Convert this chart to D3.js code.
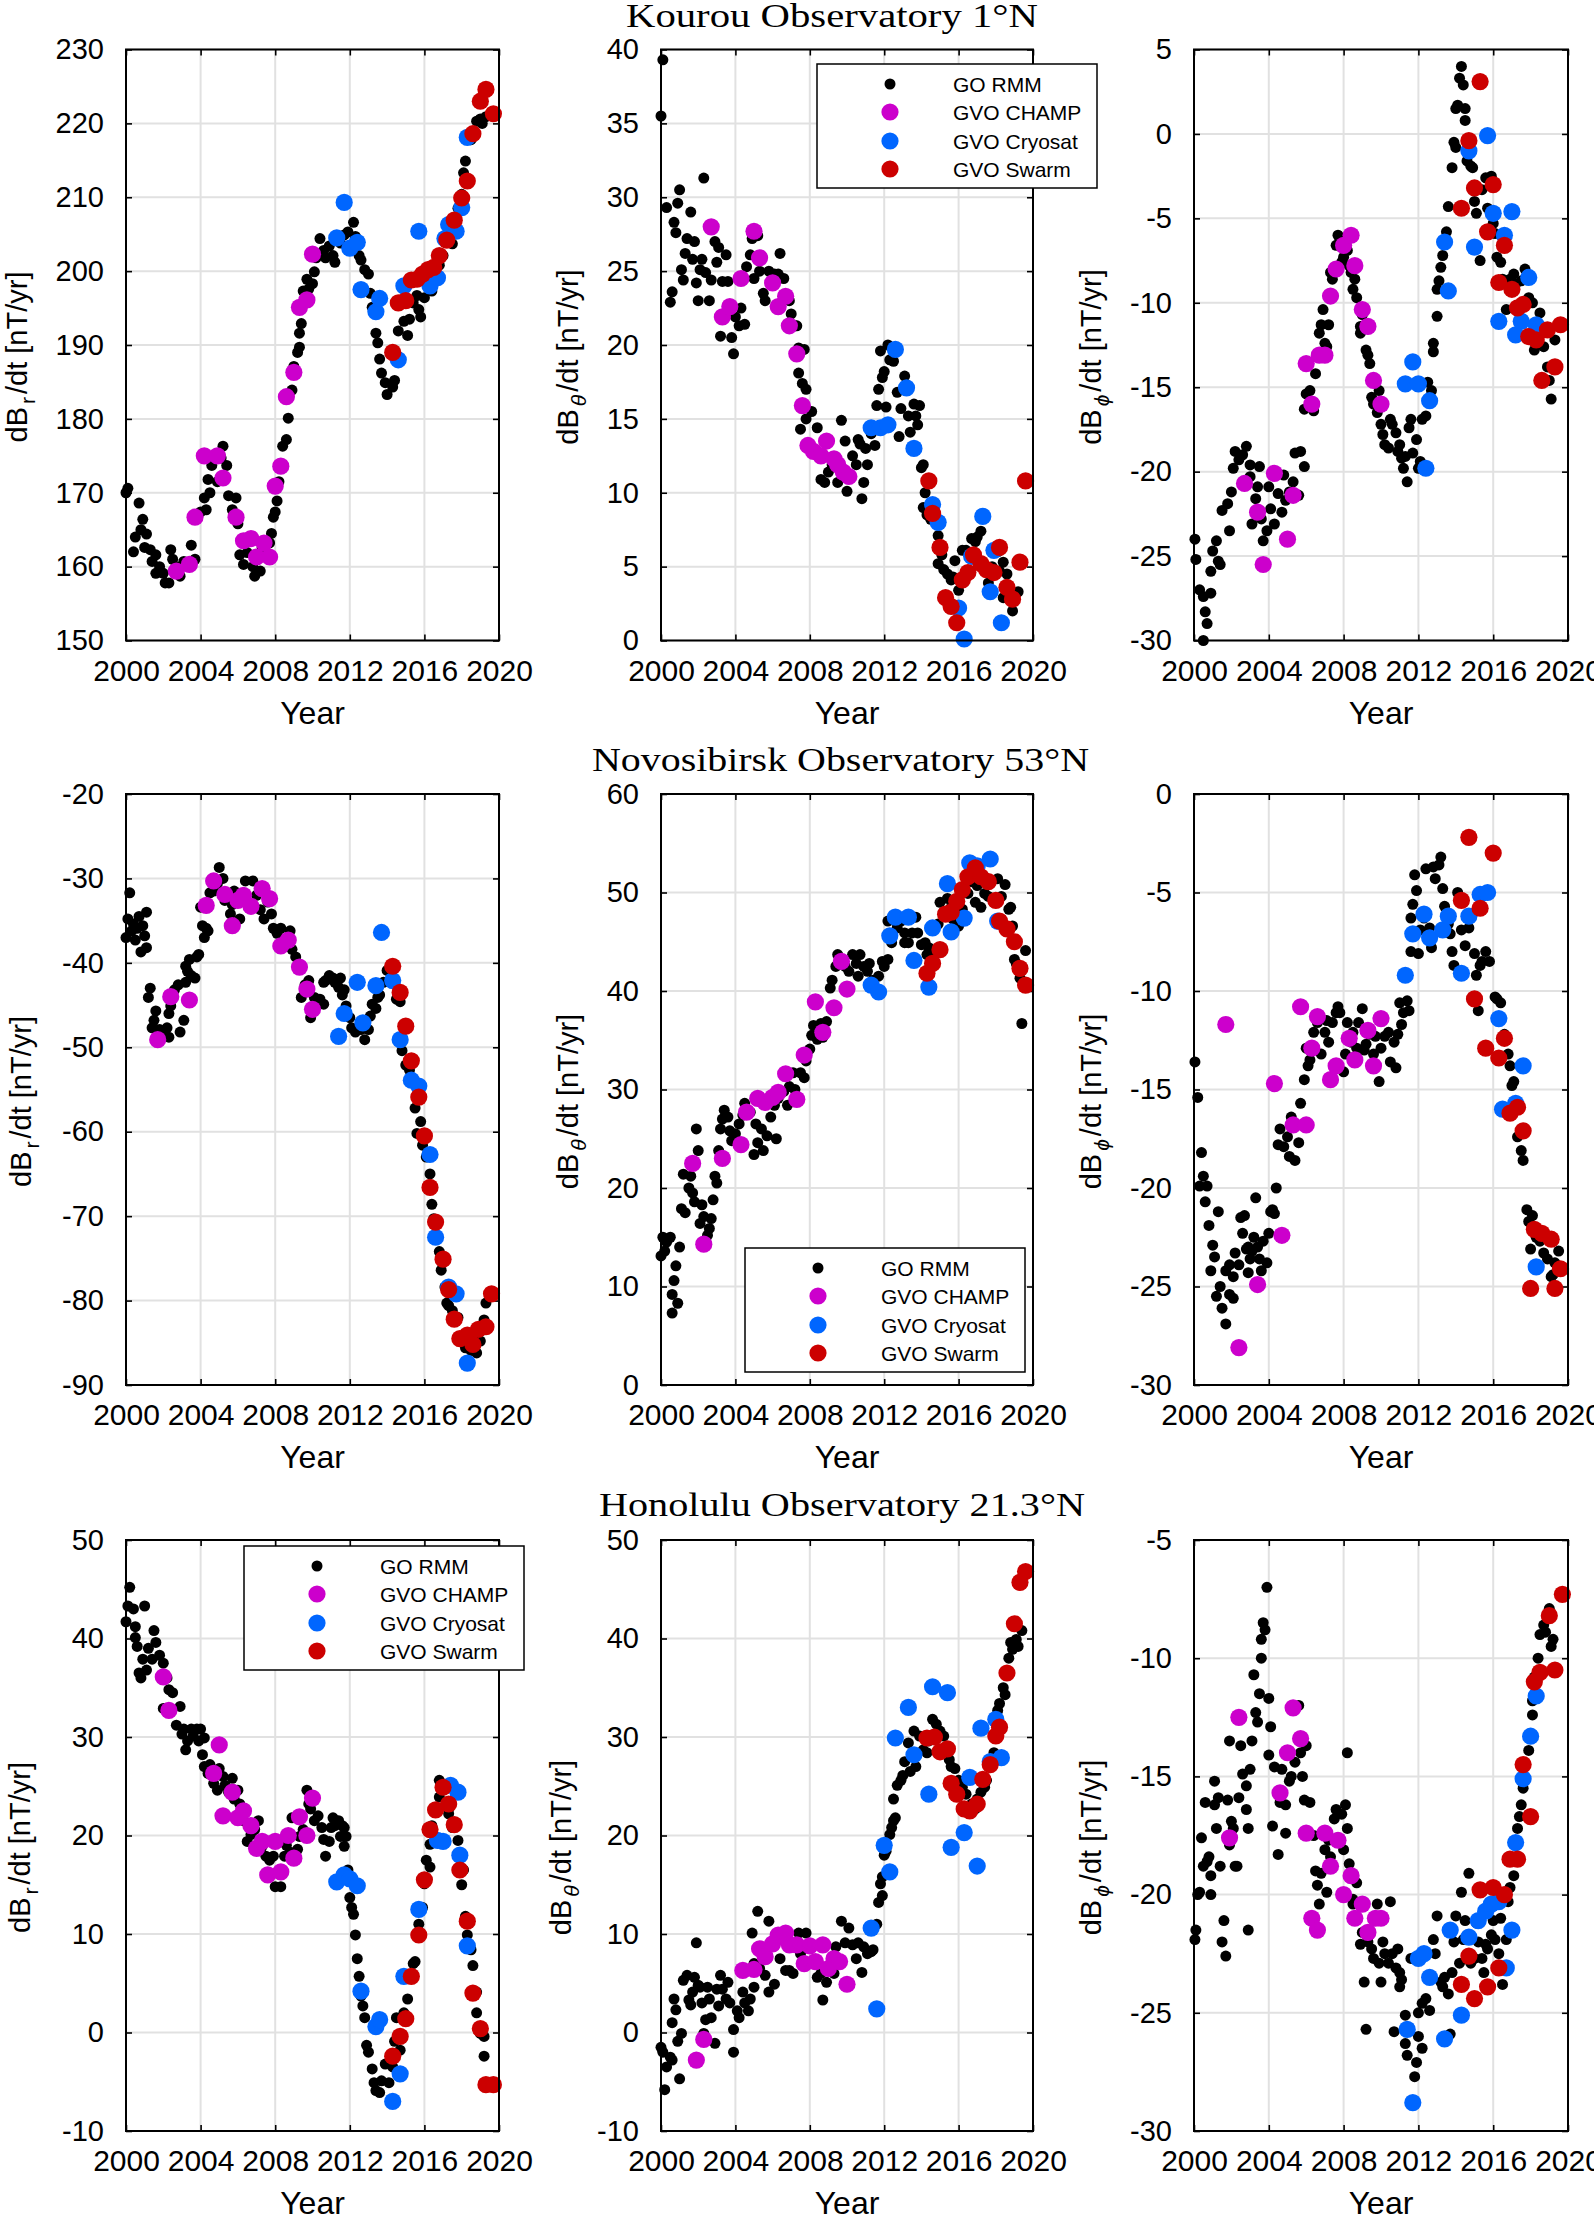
<!DOCTYPE html>
<html><head><meta charset="utf-8">
<script src="https://cdn.jsdelivr.net/npm/d3@7"></script>
<style>body{margin:0;background:#fff;} svg{display:block;}</style>
</head><body>
<svg id="chart" width="1594" height="2216"></svg>
<script>
// ---------------- data ----------------
const xTickValues = [2000, 2004, 2008, 2012, 2016, 2020];
const seriesNames = ["GO RMM", "GVO CHAMP", "GVO Cryosat", "GVO Swarm"];
const stationTitles = ["Kourou Observatory 1°N", "Novosibirsk Observatory 53°N", "Honolulu Observatory 21.3°N"];

const kourouRTicks = [150,160,170,180,190,200,210,220,230];
const kourouThetaTicks = [0,5,10,15,20,25,30,35,40];
const kourouPhiTicks = [-30,-25,-20,-15,-10,-5,0,5];
const novoRTicks = [-90,-80,-70,-60,-50,-40,-30,-20];
const novoThetaTicks = [0,10,20,30,40,50,60];
const novoPhiTicks = [-30,-25,-20,-15,-10,-5,0];
const honoRTicks = [-10,0,10,20,30,40,50];
const honoThetaTicks = [-10,0,10,20,30,40,50];
const honoPhiTicks = [-30,-25,-20,-15,-10,-5];

// Kourou dBr/dt
const kourouR_GO = [[2000.0,170.0],[2000.1,170.6],[2000.4,162],[2000.5,164],[2000.7,168.6],[2000.9,166.4],[2000.8,165],[2001.1,164.4],[2001.0,162.6],[2001.3,162.3],[2001.4,160.7],[2001.6,161.6],[2001.6,159.1],[2001.8,160.0],[2002.0,159.1],[2002.1,157.8],[2002.3,157.8],[2002.4,162.3],[2002.5,161.0],[2002.7,160],[2002.9,158.7],[2003.1,160.7],[2003.5,162.9],[2003.7,161],[2004.0,167.4],[2004.3,167.7],[2004.2,169.3],[2004.5,170],[2004.4,171.8],[2004.6,173.7],[2004.9,171.5],[2005.1,174.7],[2005.2,176.3],[2005.4,173.7],[2005.5,169.6],[2005.7,167.7],[2005.9,169.3],[2006.0,165.8],[2006.1,161.6],[2006.3,160.3],[2006.5,161.9],[2006.8,160.0],[2006.9,158.7],[2007.0,161],[2007.2,159.4],[2007.3,162.6],[2007.7,163.2],[2007.8,164.5],[2007.9,166.7],[2008.0,167.4],[2008.1,168.9],[2008.2,171.5],[2008.3,173.7],[2008.4,176.3],[2008.6,177.2],[2008.7,180.1],[2008.9,183.9],[2009.0,187.1],[2009.2,189],[2009.3,189.7],[2009.3,191.6],[2009.4,192.9],[2009.5,197.3],[2009.7,198.9],[2009.8,197.6],[2010.0,198.3],[2010.1,199.9],[2010.2,201.8],[2010.4,204.4],[2010.6,202.8],[2010.7,201.8],[2010.9,203.4],[2011.2,201.2],[2011.1,202.1],[2011.5,203.8],[2011.7,204.9],[2011.9,205.3],[2012.2,206.6],[2012.3,204.7],[2012.5,202.1],[2012.6,201.5],[2012.8,200.2],[2013.0,199.6],[2013.1,197],[2013.2,195.1],[2013.4,191.6],[2013.5,190.3],[2013.6,188.1],[2013.7,186.2],[2013.9,184.9],[2014.0,183.3],[2014.3,184.3],[2014.4,185.2],[2014.5,188.7],[2014.6,191.9],[2014.9,193.2],[2015.1,191.3],[2015.2,193.5],[2015.4,195.7],[2015.6,196.7],[2015.7,194.8],[2015.8,193.8],[2016.0,196.4],[2016.3,197.6],[2016.4,197.3],[2016.6,198.9],[2016.8,200.8],[2017.0,202.1],[2017.2,204],[2017.3,204.7],[2017.5,203.7],[2017.6,205.9],[2017.8,208.5],[2018.0,210.4],[2018.1,213.3],[2018.2,214.9],[2018.5,217.8],[2018.6,218.7],[2018.8,220.3],[2019.0,220.6],[2019.1,220],[2019.3,220.9],[2019.6,221.3]];
const kourouR_CHAMP = [[2002.7,159.4],[2003.4,160.3],[2003.7,166.7],[2004.2,175.0],[2004.9,175.0],[2005.2,172.0],[2005.9,166.7],[2006.3,163.5],[2006.7,163.8],[2007.0,161.3],[2007.4,163.2],[2007.7,161.3],[2008.0,170.9],[2008.3,173.6],[2008.6,183.0],[2009.0,186.3],[2009.3,195.1],[2009.7,196.1],[2010.0,202.3]];
const kourouR_Cryosat = [[2011.3,204.5],[2011.7,209.3],[2012.0,203.1],[2012.4,203.9],[2012.6,197.5],[2013.4,194.5],[2013.6,196.3],[2014.6,188.0],[2014.9,198.0],[2015.7,205.4],[2016.3,198.0],[2016.7,199.1],[2017.1,204.4],[2017.3,206.3],[2017.7,205.4],[2018.0,208.6],[2018.3,218.1]];
const kourouR_Swarm = [[2014.3,189.0],[2014.6,195.7],[2015.0,196.0],[2015.3,198.8],[2015.6,198.9],[2015.9,199.6],[2016.2,200.2],[2016.5,200.5],[2016.8,202.1],[2017.2,204.2],[2017.6,206.9],[2018.0,209.9],[2018.3,212.2],[2018.6,218.6],[2019.0,223.0],[2019.3,224.6],[2019.7,221.3]];

// Kourou dBtheta/dt
const kourouTheta_GO = [[2000.1,39.3],[2000.0,35.5],[2000.3,29.3],[2000.5,22.9],[2000.6,23.6],[2000.7,28.3],[2000.8,27.6],[2000.9,29.6],[2001.0,30.5],[2001.1,25.1],[2001.2,24.4],[2001.3,26.2],[2001.4,27.2],[2001.6,29.0],[2001.7,25.8],[2001.8,27.0],[2001.9,24.2],[2002.0,23.0],[2002.1,25.1],[2002.2,25.8],[2002.3,31.3],[2002.4,24.9],[2002.6,23.0],[2002.7,24.4],[2002.9,27.0],[2003.0,25.6],[2003.1,26.6],[2003.2,20.6],[2003.3,24.3],[2003.5,26.1],[2003.6,24.3],[2003.8,20.5],[2003.9,19.4],[2004.0,21.9],[2004.2,21.3],[2004.3,22.5],[2004.5,21.4],[2004.6,25.3],[2004.8,26.1],[2004.9,27.2],[2005.0,24.5],[2005.2,27.4],[2005.3,25.0],[2005.5,23.5],[2005.6,23.0],[2005.8,25.0],[2006.1,24.8],[2006.3,24.8],[2006.4,26.2],[2006.6,24.5],[2006.9,23.0],[2007.0,22.1],[2007.2,21.3],[2007.3,21.3],[2007.4,19.8],[2007.4,18.1],[2007.6,17.4],[2007.7,19.7],[2007.8,17.0],[2007.8,15.0],[2007.5,14.3],[2008.1,15.5],[2008.4,14.4],[2008.6,10.9],[2008.8,10.7],[2009.0,11.4],[2009.2,11.9],[2009.5,10.7],[2009.7,14.9],[2009.9,13.5],[2010.0,10.1],[2010.3,12.5],[2010.5,11.9],[2010.6,13.6],[2010.7,13.3],[2010.8,9.6],[2010.9,10.7],[2011.0,13.0],[2011.1,11.9],[2011.3,14.0],[2011.5,13.2],[2011.6,15.9],[2011.7,17.0],[2011.8,19.6],[2011.9,17.8],[2012.0,18.2],[2012.1,15.8],[2012.2,20.0],[2012.3,19.0],[2012.5,18.9],[2012.7,16.8],[2012.8,13.8],[2012.9,15.7],[2013.1,17.9],[2013.3,15.2],[2013.4,14.1],[2013.6,16.0],[2013.7,15.2],[2013.9,15.9],[2013.8,14.6],[2014.0,11.7],[2014.1,11.9],[2014.2,10.0],[2014.1,9.0],[2014.3,8.5],[2014.5,8.2],[2014.8,7.9],[2014.9,7.1],[2015.0,6.3],[2015.1,5.8],[2014.9,5.2],[2015.2,4.8],[2015.4,4.5],[2015.6,4.1],[2015.7,4.3],[2015.8,5.4],[2016.0,3.4],[2016.2,6.1],[2016.4,6.1],[2016.7,6.9],[2016.9,6.7],[2017.0,7.0],[2017.2,7.4],[2017.6,3.9],[2017.8,5.0],[2018.1,6.0],[2018.2,4.7],[2018.4,5.3],[2018.6,4.5],[2018.8,3.3],[2018.9,2.0],[2019.2,3.3],[2018.4,2.9]];
const kourouTheta_CHAMP = [[2002.7,28.0],[2003.3,21.9],[2003.7,22.6],[2004.3,24.5],[2005.0,27.7],[2005.3,25.9],[2006.0,24.2],[2006.3,22.6],[2006.7,23.3],[2006.9,21.3],[2007.3,19.4],[2007.6,15.9],[2007.9,13.2],[2008.2,12.8],[2008.6,12.5],[2008.9,13.5],[2009.3,12.3],[2009.5,11.9],[2009.8,11.4],[2010.1,11.1]];
const kourouTheta_Cryosat = [[2011.3,14.4],[2011.8,14.4],[2012.2,14.6],[2012.6,19.7],[2013.2,17.1],[2013.6,13.0],[2014.6,9.2],[2014.9,8.0],[2016.0,2.2],[2016.3,0.1],[2016.7,5.7],[2017.3,8.4],[2017.7,3.3],[2017.9,6.1],[2018.3,1.2]];
const kourouTheta_Swarm = [[2014.4,10.8],[2014.6,8.6],[2015.0,6.3],[2015.3,2.9],[2015.6,2.3],[2015.9,1.2],[2016.2,4.1],[2016.5,4.6],[2016.8,5.8],[2017.2,5.2],[2017.5,4.8],[2017.9,4.6],[2018.2,6.3],[2018.6,3.6],[2018.9,2.8],[2019.3,5.3],[2019.6,10.8]];

// Kourou dBphi/dt
const kourouPhi_GO = [[2000.05,-24.0],[2000.1,-25.2],[2000.3,-27.0],[2000.5,-27.4],[2000.6,-28.3],[2000.7,-29.0],[2000.5,-30.0],[2000.9,-27.2],[2000.9,-25.9],[2001.0,-24.7],[2001.2,-24.1],[2001.3,-25.3],[2001.4,-25.5],[2001.5,-22.3],[2001.8,-21.9],[2001.9,-23.5],[2002.0,-21.2],[2002.1,-19.8],[2002.2,-18.8],[2002.4,-19.3],[2002.6,-19.0],[2002.8,-18.5],[2003.0,-19.6],[2003.0,-20.3],[2003.1,-23.1],[2003.3,-21.6],[2003.4,-20.9],[2003.5,-19.7],[2003.6,-22.8],[2003.7,-24.1],[2003.9,-23.5],[2004.0,-20.9],[2004.1,-22.2],[2004.3,-23.1],[2004.5,-21.3],[2004.7,-22.4],[2004.8,-20.2],[2004.9,-21.7],[2005.1,-21.2],[2005.3,-20.6],[2005.4,-18.9],[2005.6,-21.4],[2005.7,-18.8],[2005.9,-19.7],[2005.9,-16.3],[2006.0,-15.4],[2006.2,-15.2],[2006.4,-16.4],[2006.5,-14.2],[2006.7,-11.8],[2006.8,-11.3],[2006.9,-10.4],[2007.0,-12.4],[2007.1,-12.6],[2007.2,-11.3],[2007.3,-8.2],[2007.4,-8.6],[2007.6,-6.6],[2007.7,-6.0],[2007.9,-7.6],[2008.0,-7.3],[2008.2,-6.9],[2008.3,-7.8],[2008.4,-8.2],[2008.5,-9.2],[2008.6,-8.6],[2008.7,-9.7],[2008.9,-11.4],[2008.9,-11.8],[2009.0,-10.7],[2009.2,-12.8],[2009.3,-13.1],[2009.4,-13.6],[2009.5,-15.6],[2009.6,-16.0],[2009.8,-16.5],[2009.9,-15.2],[2010.0,-17.2],[2010.1,-17.8],[2010.2,-18.4],[2010.4,-18.6],[2010.5,-16.9],[2010.6,-17.2],[2010.8,-17.7],[2010.9,-18.8],[2011.0,-18.4],[2011.1,-19.2],[2011.2,-19.8],[2011.3,-19.1],[2011.4,-20.6],[2011.5,-17.4],[2011.6,-16.9],[2011.7,-18.9],[2011.9,-18.1],[2012.0,-19.8],[2012.1,-19.4],[2012.2,-16.9],[2012.4,-16.7],[2012.5,-14.7],[2012.7,-15.2],[2012.8,-12.9],[2012.8,-12.4],[2013.0,-10.8],[2013.0,-9.2],[2013.1,-8.7],[2013.2,-7.9],[2013.3,-7.2],[2013.4,-6.3],[2013.5,-5.8],[2013.6,-4.3],[2013.8,-2.0],[2013.9,-0.5],[2014.0,-0.8],[2014.0,1.5],[2014.1,1.7],[2014.2,3.3],[2014.3,4.0],[2014.4,2.9],[2014.5,1.5],[2014.5,0.8],[2014.6,-1.6],[2014.8,-1.9],[2014.9,-2.0],[2015.0,-4.0],[2015.1,-4.7],[2015.3,-7.5],[2015.4,-3.3],[2015.6,-2.6],[2015.8,-2.7],[2015.9,-2.5],[2015.7,-4.4],[2016.0,-5.3],[2016.1,-5.9],[2016.2,-7.3],[2016.4,-7.6],[2016.5,-8.6],[2016.7,-10.4],[2016.9,-8.6],[2017.1,-8.3],[2017.2,-8.9],[2017.5,-8.7],[2017.7,-8.0],[2017.9,-9.7],[2018.1,-10.0],[2018.2,-12.8],[2018.3,-12.1],[2018.5,-10.6],[2018.7,-12.6],[2018.9,-13.8],[2019.0,-14.6],[2019.1,-15.7],[2019.3,-12.2]];
const kourouPhi_CHAMP = [[2002.7,-20.7],[2003.4,-22.4],[2003.7,-25.5],[2004.3,-20.1],[2005.0,-24.0],[2005.3,-21.4],[2006.0,-13.6],[2006.3,-16.0],[2006.7,-13.1],[2007.0,-13.1],[2007.3,-9.6],[2007.6,-8.0],[2008.0,-6.6],[2008.4,-6.0],[2008.6,-7.8],[2009.0,-10.4],[2009.3,-11.4],[2009.6,-14.6],[2010.0,-16.0]];
const kourouPhi_Cryosat = [[2011.3,-14.8],[2011.7,-13.5],[2012.0,-14.8],[2012.4,-19.8],[2012.6,-15.8],[2013.4,-6.4],[2013.6,-9.3],[2014.7,-1.0],[2015.0,-6.7],[2015.7,-0.1],[2016.0,-4.7],[2016.3,-11.1],[2016.6,-6.0],[2017.0,-4.6],[2017.2,-11.9],[2017.5,-11.1],[2017.9,-8.5],[2018.3,-11.3]];
const kourouPhi_Swarm = [[2014.3,-4.4],[2014.7,-0.4],[2015.0,-3.2],[2015.3,3.1],[2015.7,-5.8],[2016.0,-3.0],[2016.3,-8.8],[2016.6,-6.6],[2017.0,-9.2],[2017.3,-10.3],[2017.6,-10.1],[2017.9,-12.0],[2018.3,-12.2],[2018.6,-14.6],[2018.9,-11.6],[2019.3,-13.8],[2019.6,-11.3]];

// Novosibirsk dBr/dt
const novoR_GO = [[2000.0,-37.0],[2000.2,-31.7],[2000.1,-34.8],[2000.3,-36.2],[2000.4,-35.4],[2000.5,-37.3],[2000.6,-35.9],[2000.7,-34.5],[2000.8,-38.7],[2000.9,-35.6],[2001.0,-36.8],[2001.1,-34.0],[2001.1,-38.2],[2001.3,-43.0],[2001.2,-44.1],[2001.4,-47.7],[2001.5,-46.8],[2001.6,-45.7],[2001.8,-47.9],[2002.0,-48.5],[2002.2,-47.7],[2002.3,-48.8],[2002.3,-46.0],[2002.4,-45.1],[2002.6,-43.2],[2002.8,-42.6],[2002.9,-48.2],[2003.1,-46.8],[2003.2,-42.3],[2003.2,-40.4],[2003.3,-41.0],[2003.4,-39.6],[2003.5,-41.5],[2003.7,-41.8],[2003.8,-39.3],[2003.9,-39.0],[2004.0,-33.4],[2004.1,-35.6],[2004.2,-37.0],[2004.3,-35.9],[2004.4,-36.2],[2004.5,-31.7],[2004.7,-31.5],[2004.9,-30.6],[2005.0,-28.7],[2005.2,-30.0],[2005.3,-32.6],[2005.6,-34.2],[2005.7,-33.1],[2005.8,-31.5],[2006.1,-34.8],[2006.2,-32.6],[2006.4,-30.3],[2006.8,-30.3],[2007.0,-32.0],[2007.2,-33.7],[2007.4,-34.8],[2007.6,-32.8],[2007.8,-34.2],[2007.9,-35.9],[2008.1,-36.5],[2008.3,-35.9],[2008.5,-37.6],[2008.7,-37.0],[2008.8,-36.2],[2008.9,-38.4],[2009.1,-39.3],[2009.2,-40.4],[2009.4,-44.1],[2009.6,-42.6],[2009.8,-42.1],[2009.9,-46.5],[2010.1,-44.1],[2010.4,-44.3],[2010.6,-44.9],[2010.6,-42.3],[2010.7,-42.1],[2010.9,-41.5],[2011.1,-41.8],[2011.2,-42.3],[2011.4,-42.9],[2011.5,-41.8],[2011.6,-43.8],[2011.7,-43.2],[2011.8,-45.1],[2012.0,-46.5],[2012.1,-47.7],[2012.3,-48.2],[2012.6,-47.9],[2012.8,-49.1],[2013.0,-47.9],[2013.1,-46.3],[2013.2,-44.9],[2013.4,-45.4],[2013.5,-44.1],[2013.6,-43.8],[2013.8,-42.3],[2014.0,-40.9],[2014.3,-41.8],[2014.5,-44.3],[2014.7,-44.6],[2014.8,-50.4],[2015.0,-52.1],[2015.2,-52.7],[2015.4,-53.8],[2015.5,-57.2],[2015.6,-60.2],[2015.8,-58.8],[2015.9,-61.6],[2016.1,-63.0],[2016.3,-65.0],[2016.4,-68.6],[2016.5,-70.3],[2016.7,-72.5],[2016.8,-74.2],[2016.9,-76.4],[2017.1,-78.4],[2017.2,-80.3],[2017.3,-80.6],[2017.5,-81.2],[2017.8,-82.0],[2018.1,-84.2],[2018.2,-85.6],[2018.5,-85.9],[2018.8,-86.2],[2019.0,-84.8],[2019.2,-82.3],[2019.3,-80.3],[2019.5,-79.2]];
const novoR_CHAMP = [[2001.7,-49.1],[2002.4,-44.0],[2003.4,-44.4],[2004.3,-33.2],[2004.7,-30.3],[2005.3,-31.9],[2005.7,-35.6],[2006.0,-32.6],[2006.3,-32.0],[2006.7,-33.3],[2007.3,-31.2],[2007.7,-32.4],[2008.3,-38.0],[2008.7,-37.3],[2009.3,-40.5],[2009.7,-43.1],[2010.0,-45.5]];
const novoR_Cryosat = [[2011.4,-48.7],[2011.7,-46.0],[2012.4,-42.3],[2012.7,-47.1],[2013.4,-42.7],[2013.7,-36.4],[2014.3,-42.1],[2014.7,-49.1],[2015.3,-53.9],[2015.7,-54.6],[2016.3,-62.7],[2016.6,-72.5],[2017.3,-78.4],[2017.7,-79.2],[2018.3,-87.4]];
const novoR_Swarm = [[2014.3,-40.4],[2014.7,-43.5],[2015.0,-47.5],[2015.3,-51.6],[2015.7,-55.9],[2016.0,-60.5],[2016.3,-66.6],[2016.6,-70.7],[2017.0,-75.1],[2017.3,-78.7],[2017.6,-82.2],[2017.9,-84.5],[2018.3,-84.1],[2018.6,-85.2],[2018.9,-83.4],[2019.3,-83.1],[2019.6,-79.2]];

// Novosibirsk dBtheta/dt
const novoTheta_GO = [[2000.0,13.1],[2000.1,15.0],[2000.2,13.6],[2000.3,14.5],[2000.5,15.0],[2000.6,7.3],[2000.6,9.2],[2000.7,10.6],[2000.8,12.1],[2000.9,8.3],[2001.0,14.0],[2001.1,17.9],[2001.2,21.4],[2001.3,17.5],[2001.5,20.0],[2001.6,21.2],[2001.7,19.5],[2001.8,18.6],[2001.9,26.0],[2002.0,23.8],[2002.1,16.4],[2002.2,18.3],[2002.3,17.1],[2002.5,15.2],[2002.6,15.9],[2002.7,16.9],[2002.8,18.8],[2002.9,21.2],[2003.0,20.5],[2003.1,23.8],[2003.2,26.0],[2003.3,27.0],[2003.4,27.9],[2003.6,27.2],[2003.7,25.8],[2003.8,24.8],[2004.0,25.5],[2004.2,26.5],[2004.4,27.4],[2004.5,28.6],[2004.8,27.7],[2005.0,23.4],[2005.1,26.5],[2005.2,24.6],[2005.4,26.0],[2005.5,23.8],[2005.7,25.3],[2005.9,27.2],[2006.1,28.4],[2006.2,25.0],[2006.3,29.1],[2006.6,29.8],[2006.8,28.4],[2006.9,30.3],[2007.1,31.7],[2007.2,30.0],[2007.5,31.7],[2007.7,31.2],[2007.8,32.9],[2008.0,34.1],[2008.1,35.5],[2008.2,36.5],[2008.4,35.1],[2008.6,36.7],[2008.7,35.3],[2008.9,36.9],[2009.1,40.3],[2009.2,41.1],[2009.4,42.5],[2009.5,43.7],[2009.7,43.0],[2009.9,42.5],[2010.1,42.0],[2010.3,43.7],[2010.5,42.8],[2010.6,41.5],[2010.7,43.7],[2010.9,42.5],[2011.1,42.0],[2011.2,42.8],[2011.4,41.1],[2011.6,39.9],[2011.7,41.5],[2011.9,43.0],[2012.0,42.5],[2012.2,43.2],[2012.2,47.1],[2012.4,44.9],[2012.6,47.1],[2012.7,46.4],[2012.9,47.1],[2013.1,45.9],[2013.1,44.9],[2013.3,44.9],[2013.5,45.9],[2013.7,47.5],[2013.8,45.9],[2014.0,44.7],[2014.2,44.9],[2014.3,43.7],[2014.4,44.4],[2014.5,43.2],[2014.7,43.7],[2014.9,46.8],[2015.0,49.0],[2015.2,48.0],[2015.4,49.4],[2015.6,48.5],[2015.7,47.3],[2016.0,46.6],[2016.2,48.3],[2016.5,49.9],[2016.7,51.1],[2016.9,49.0],[2017.0,50.7],[2017.2,48.5],[2017.4,49.9],[2017.6,49.6],[2017.9,49.0],[2018.1,51.4],[2018.3,49.6],[2018.5,50.8],[2018.7,48.3],[2018.8,48.5],[2018.9,46.6],[2019.0,43.2],[2019.1,42.8],[2019.3,41.3],[2019.4,36.7],[2019.6,44.1]];
const novoTheta_CHAMP = [[2001.7,22.5],[2002.3,14.3],[2003.3,23.0],[2004.3,24.4],[2004.6,27.7],[2005.2,29.1],[2005.6,28.7],[2006.0,29.2],[2006.3,29.7],[2006.7,31.6],[2007.3,29.0],[2007.7,33.5],[2008.3,38.9],[2008.7,35.8],[2009.3,38.3],[2009.7,43.0],[2010.0,40.2]];
const novoTheta_Cryosat = [[2011.3,40.6],[2011.7,39.9],[2012.3,45.6],[2012.6,47.5],[2013.3,47.5],[2013.6,43.1],[2014.4,40.4],[2014.6,46.4],[2015.4,50.9],[2015.6,46.0],[2016.3,47.4],[2016.6,53.0],[2017.0,52.7],[2017.7,53.4],[2018.1,47.1]];
const novoTheta_Swarm = [[2014.3,41.8],[2014.6,42.8],[2015.0,44.2],[2015.3,47.8],[2015.6,48.0],[2015.9,49.1],[2016.2,50.3],[2016.5,51.6],[2016.9,52.5],[2017.2,51.6],[2017.6,51.1],[2018.0,49.2],[2018.2,47.1],[2018.6,46.3],[2019.0,45.0],[2019.3,42.3],[2019.6,40.6]];

// Novosibirsk dBphi/dt
const novoPhi_GO = [[2000.05,-13.6],[2000.2,-15.4],[2000.3,-19.9],[2000.4,-18.2],[2000.5,-19.4],[2000.6,-20.7],[2000.7,-19.9],[2000.8,-21.9],[2000.9,-24.2],[2001.0,-22.9],[2001.1,-23.5],[2001.2,-25.5],[2001.3,-21.2],[2001.4,-25.0],[2001.5,-26.1],[2001.7,-24.2],[2001.7,-26.9],[2001.9,-23.9],[2001.9,-25.4],[2002.1,-25.6],[2002.1,-24.5],[2002.2,-23.3],[2002.4,-23.9],[2002.5,-21.5],[2002.6,-22.3],[2002.7,-21.4],[2002.8,-23.1],[2002.9,-24.3],[2002.9,-23.0],[2003.0,-23.6],[2003.1,-23.2],[2003.2,-22.5],[2003.3,-20.5],[2003.4,-23.0],[2003.5,-23.6],[2003.6,-24.2],[2003.7,-22.7],[2003.9,-23.8],[2004.0,-22.3],[2004.1,-21.2],[2004.2,-21.1],[2004.3,-21.3],[2004.4,-20.0],[2004.5,-17.8],[2004.6,-17.0],[2004.8,-17.9],[2005.0,-17.4],[2005.1,-18.4],[2005.2,-16.4],[2005.4,-18.6],[2005.6,-17.7],[2005.7,-15.7],[2005.9,-14.5],[2006.0,-12.9],[2006.1,-13.8],[2006.2,-13.5],[2006.4,-12.1],[2006.6,-11.6],[2006.8,-13.2],[2007.0,-12.1],[2007.1,-11.5],[2007.2,-12.6],[2007.4,-11.6],[2007.6,-11.1],[2007.7,-10.8],[2007.8,-11.1],[2008.0,-14.1],[2008.1,-13.2],[2008.2,-11.6],[2008.4,-12.6],[2008.5,-12.1],[2008.7,-12.9],[2008.8,-11.6],[2009.0,-10.9],[2009.1,-13.0],[2009.2,-12.7],[2009.4,-12.2],[2009.6,-13.2],[2009.7,-12.3],[2009.9,-14.6],[2010.0,-12.9],[2010.2,-12.3],[2010.4,-12.1],[2010.5,-13.6],[2010.7,-12.6],[2010.8,-13.9],[2010.9,-12.2],[2011.0,-10.6],[2011.1,-11.7],[2011.2,-11.1],[2011.4,-10.5],[2011.5,-11.0],[2011.6,-8.0],[2011.6,-6.3],[2011.7,-5.6],[2011.8,-4.1],[2011.9,-4.9],[2012.0,-8.1],[2012.1,-6.9],[2012.3,-6.3],[2012.4,-3.8],[2012.6,-6.8],[2012.7,-7.8],[2012.8,-3.7],[2012.9,-4.3],[2013.1,-3.6],[2013.2,-3.2],[2013.3,-4.8],[2013.4,-5.7],[2013.6,-6.6],[2013.7,-7.1],[2013.8,-8.0],[2013.9,-8.7],[2014.1,-5.0],[2014.3,-6.9],[2014.5,-7.7],[2014.7,-6.8],[2015.0,-8.1],[2015.1,-9.2],[2015.2,-11.0],[2015.3,-8.7],[2015.4,-8.5],[2015.6,-8.0],[2015.8,-8.5],[2016.1,-10.3],[2016.2,-10.4],[2016.4,-10.6],[2016.6,-12.2],[2016.8,-13.2],[2016.9,-13.8],[2017.0,-14.8],[2017.1,-14.6],[2017.2,-15.7],[2017.3,-17.4],[2017.5,-18.1],[2017.6,-18.6],[2017.8,-21.1],[2017.9,-21.7],[2018.0,-23.1],[2018.1,-21.4],[2018.3,-22.5],[2018.5,-22.7],[2018.7,-23.3],[2018.9,-23.6],[2019.1,-24.5],[2019.2,-24.4],[2019.3,-23.8],[2019.5,-23.2]];
const novoPhi_CHAMP = [[2001.7,-11.7],[2002.4,-28.1],[2003.4,-24.9],[2004.3,-14.7],[2004.7,-22.4],[2005.3,-16.8],[2005.7,-10.8],[2006.0,-16.8],[2006.3,-12.9],[2006.6,-11.3],[2007.3,-14.5],[2007.6,-13.8],[2008.3,-12.4],[2008.6,-13.5],[2009.3,-12.0],[2009.6,-13.8],[2010.0,-11.4]];
const novoPhi_Cryosat = [[2011.3,-9.2],[2011.7,-7.1],[2012.3,-6.1],[2012.6,-7.3],[2013.3,-6.9],[2013.6,-6.2],[2014.3,-9.1],[2014.7,-6.2],[2015.3,-5.1],[2015.7,-5.0],[2016.3,-11.4],[2016.5,-16.0],[2017.2,-15.7],[2017.6,-13.8],[2018.3,-24.0]];
const novoPhi_Swarm = [[2014.3,-5.4],[2014.7,-2.2],[2015.0,-10.4],[2015.3,-5.8],[2015.6,-12.9],[2016.0,-3.0],[2016.3,-13.4],[2016.6,-12.4],[2016.9,-16.2],[2017.3,-15.9],[2017.6,-17.1],[2018.0,-25.1],[2018.2,-22.1],[2018.6,-22.3],[2019.1,-22.6],[2019.3,-25.1],[2019.6,-24.1]];

// Honolulu dBr/dt
const honoR_GO = [[2000.0,41.7],[2000.1,43.3],[2000.2,45.2],[2000.4,43.0],[2000.5,41.2],[2000.5,40.1],[2000.6,39.2],[2000.7,36.5],[2000.8,36.0],[2000.9,37.9],[2001.0,43.3],[2001.1,36.8],[2001.2,39.0],[2001.4,37.9],[2001.5,40.8],[2001.6,39.6],[2001.8,38.3],[2002.0,37.5],[2002.0,32.9],[2002.2,36.0],[2002.3,34.8],[2002.5,34.5],[2002.7,31.2],[2002.9,33.1],[2003.0,30.3],[2003.1,30.8],[2003.2,28.7],[2003.3,29.6],[2003.5,30.8],[2003.6,30.1],[2003.8,30.8],[2003.9,29.6],[2004.0,30.8],[2004.2,29.9],[2004.1,28.2],[2004.2,27.0],[2004.4,26.3],[2004.5,27.2],[2004.7,25.3],[2004.9,24.6],[2005.0,26.8],[2005.2,26.0],[2005.3,25.1],[2005.5,24.4],[2005.7,25.8],[2005.8,23.7],[2006.0,24.6],[2006.1,23.2],[2006.3,21.5],[2006.5,19.4],[2006.7,20.1],[2006.9,20.6],[2007.1,21.5],[2007.3,18.9],[2007.5,17.9],[2007.7,17.5],[2007.9,17.9],[2008.0,14.8],[2008.3,14.8],[2008.5,17.9],[2008.6,19.0],[2008.8,18.3],[2008.9,21.8],[2009.2,18.6],[2009.3,19.9],[2009.5,20.6],[2009.7,24.6],[2009.8,23.2],[2009.9,22.7],[2010.1,21.5],[2010.3,22.0],[2010.5,20.8],[2010.6,19.6],[2010.7,17.9],[2010.9,19.4],[2011.0,20.8],[2011.1,21.8],[2011.2,21.0],[2011.4,21.5],[2011.5,19.9],[2011.6,21.0],[2011.7,20.8],[2011.8,19.9],[2011.7,18.9],[2011.9,16.5],[2012.0,13.7],[2012.1,12.7],[2012.2,12.0],[2012.3,9.9],[2012.4,7.5],[2012.5,5.7],[2012.6,3.7],[2012.7,2.7],[2012.8,1.5],[2012.9,-1.3],[2013.0,-2.0],[2013.2,-3.7],[2013.3,-5.1],[2013.4,-5.9],[2013.6,-6.1],[2013.7,-4.9],[2013.9,-3.2],[2014.1,-5.1],[2014.3,-3.5],[2014.4,-0.9],[2014.5,1.5],[2014.7,-1.8],[2014.9,2.0],[2015.1,3.4],[2015.2,5.6],[2015.4,7.0],[2015.5,7.2],[2015.7,11.0],[2015.9,12.7],[2016.0,15.1],[2016.1,17.5],[2016.3,16.8],[2016.3,19.1],[2016.4,21.0],[2016.6,22.7],[2016.8,23.9],[2016.8,25.6],[2017.0,24.9],[2017.3,22.7],[2017.3,22.2],[2017.5,20.8],[2017.8,19.5],[2018.0,15.0],[2018.1,16.5],[2018.2,11.8],[2018.3,9.9],[2018.5,8.4],[2018.6,6.8],[2018.8,4.1],[2018.8,2.0],[2019.0,-0.1],[2019.2,-0.4],[2019.2,-2.4]];
const honoR_CHAMP = [[2002.0,36.1],[2002.3,32.7],[2005.0,29.2],[2004.7,26.3],[2005.7,24.4],[2005.2,22.0],[2006.0,21.8],[2006.3,22.5],[2006.7,21.0],[2007.0,18.7],[2007.3,19.4],[2007.6,16.0],[2008.0,19.4],[2008.3,16.3],[2008.7,20.0],[2009.0,17.7],[2009.3,21.9],[2009.7,20.0],[2010.0,23.8]];
const honoR_Cryosat = [[2011.3,15.3],[2011.7,16.0],[2012.0,15.6],[2012.4,14.9],[2012.6,4.2],[2013.4,0.6],[2013.6,1.3],[2014.3,-7.0],[2014.7,-4.2],[2014.9,5.7],[2015.7,12.5],[2016.7,19.5],[2017.0,19.4],[2017.4,25.1],[2017.8,24.4],[2017.9,18.0],[2018.3,8.8]];
const honoR_Swarm = [[2014.3,-2.4],[2014.7,-0.4],[2015.0,1.4],[2015.3,5.7],[2015.7,9.9],[2016.0,15.5],[2016.3,20.6],[2016.6,22.6],[2017.0,24.9],[2017.3,23.2],[2017.6,21.1],[2017.9,16.5],[2018.3,11.3],[2018.6,4.0],[2019.0,0.4],[2019.3,-5.3],[2019.7,-5.3]];

// Honolulu dBtheta/dt
const honoTheta_GO = [[2000.0,-1.5],[2000.1,-2.0],[2000.2,-5.8],[2000.3,-3.5],[2000.5,-2.5],[2000.6,-2.8],[2000.6,1.0],[2000.7,3.4],[2000.8,2.3],[2000.9,-0.9],[2001.0,-4.7],[2001.1,-0.1],[2001.2,5.3],[2001.4,5.8],[2001.5,3.3],[2001.6,2.8],[2001.7,4.1],[2001.8,5.6],[2001.9,9.1],[2002.0,4.8],[2002.1,4.6],[2002.2,3.0],[2002.3,-0.1],[2002.4,1.3],[2002.5,4.6],[2002.6,3.4],[2002.7,1.5],[2002.9,-1.1],[2003.0,4.4],[2003.1,2.7],[2003.2,5.8],[2003.3,4.4],[2003.5,3.4],[2003.6,5.1],[2003.7,3.0],[2003.9,0.3],[2003.9,-2.0],[2004.1,2.2],[2004.2,1.5],[2004.4,4.1],[2004.5,3.0],[2004.7,2.2],[2004.8,3.4],[2004.9,10.1],[2005.0,4.6],[2005.0,7.0],[2005.2,12.3],[2005.3,6.5],[2005.6,5.8],[2005.7,7.5],[2005.8,11.3],[2005.8,4.1],[2006.1,4.9],[2006.4,7.5],[2006.7,6.3],[2006.9,6.3],[2007.1,6.0],[2007.4,10.1],[2007.5,8.0],[2007.8,10.1],[2008.0,8.9],[2008.4,5.6],[2008.6,6.0],[2008.7,3.3],[2008.9,5.1],[2009.1,6.5],[2009.3,6.0],[2009.4,8.7],[2009.7,11.3],[2009.9,9.1],[2010.1,10.6],[2010.3,8.9],[2010.5,7.5],[2010.6,9.1],[2010.8,6.1],[2010.9,8.7],[2011.1,8.0],[2011.3,8.2],[2011.4,8.4],[2011.6,11.0],[2011.7,13.2],[2011.8,15.1],[2011.9,13.9],[2011.9,15.8],[2012.0,18.0],[2012.1,18.4],[2012.3,20.1],[2012.4,20.8],[2012.5,21.5],[2012.6,21.8],[2012.5,23.7],[2012.7,25.1],[2012.9,25.6],[2013.0,26.1],[2013.1,27.5],[2013.3,29.4],[2013.4,26.5],[2013.6,30.6],[2013.7,27.0],[2013.9,30.1],[2014.1,28.7],[2014.3,28.4],[2014.4,29.6],[2014.6,31.8],[2014.8,31.3],[2015.0,30.6],[2015.2,30.1],[2015.3,28.7],[2015.5,27.7],[2015.6,27.0],[2015.8,26.8],[2016.0,25.6],[2016.2,24.9],[2016.4,24.2],[2016.5,22.7],[2016.7,23.2],[2016.9,22.7],[2017.0,23.7],[2017.2,24.4],[2017.4,24.9],[2017.5,25.6],[2017.7,27.2],[2017.9,28.4],[2018.1,31.0],[2018.1,32.7],[2018.2,33.4],[2018.4,35.0],[2018.5,34.3],[2018.7,38.0],[2018.8,39.6],[2018.9,38.9],[2019.1,39.9],[2019.2,39.2],[2019.4,40.8]];
const honoTheta_CHAMP = [[2001.9,-2.8],[2002.3,-0.7],[2004.4,6.3],[2005.0,6.4],[2005.3,8.5],[2005.6,7.7],[2006.0,9.0],[2006.3,9.9],[2006.7,10.1],[2006.9,8.9],[2007.3,8.9],[2007.7,7.0],[2008.0,8.8],[2008.3,7.2],[2008.7,8.9],[2009.0,6.5],[2009.3,7.5],[2009.6,7.2],[2010.0,4.9]];
const honoTheta_Cryosat = [[2011.3,10.6],[2011.6,2.4],[2012.0,19.0],[2012.3,16.3],[2012.6,29.9],[2013.3,33.0],[2013.6,28.2],[2014.4,24.2],[2014.6,35.1],[2015.4,34.5],[2015.6,18.8],[2016.3,20.3],[2016.6,25.9],[2017.0,16.9],[2017.2,30.9],[2017.7,27.5],[2018.0,31.8],[2018.3,27.9]];
const honoTheta_Swarm = [[2014.3,29.9],[2014.7,30.0],[2015.0,28.5],[2015.4,28.8],[2015.6,25.3],[2015.9,24.2],[2016.3,22.7],[2016.6,22.5],[2017.0,23.2],[2017.3,25.7],[2017.7,27.2],[2018.0,30.1],[2018.2,31.0],[2018.6,36.5],[2019.0,41.5],[2019.3,45.7],[2019.6,46.8]];

// Honolulu dBphi/dt
const honoPhi_GO = [[2000.05,-21.9],[2000.1,-21.5],[2000.2,-20.0],[2000.3,-19.9],[2000.4,-17.6],[2000.5,-18.8],[2000.6,-16.1],[2000.7,-18.6],[2000.8,-18.4],[2000.9,-19.2],[2000.9,-20.0],[2001.1,-16.2],[2001.1,-15.2],[2001.2,-17.2],[2001.3,-15.9],[2001.4,-18.8],[2001.5,-22.0],[2001.6,-21.1],[2001.7,-22.6],[2001.8,-16.0],[2001.9,-17.9],[2001.9,-13.5],[2002.0,-16.9],[2002.1,-17.2],[2002.2,-18.8],[2002.3,-18.8],[2002.4,-15.9],[2002.5,-13.7],[2002.6,-14.9],[2002.8,-15.4],[2002.8,-16.4],[2002.9,-21.5],[2002.9,-17.2],[2003.0,-14.7],[2003.1,-13.5],[2003.2,-10.7],[2003.3,-12.3],[2003.4,-12.7],[2003.5,-11.5],[2003.6,-10.0],[2003.6,-9.2],[2003.7,-8.5],[2003.8,-8.8],[2003.9,-7.0],[2004.0,-11.7],[2004.1,-12.9],[2004.0,-14.1],[2004.2,-17.1],[2004.3,-14.6],[2004.5,-18.3],[2004.6,-16.1],[2004.7,-14.7],[2004.9,-17.4],[2004.9,-16.2],[2005.1,-15.2],[2005.2,-15.0],[2005.4,-14.4],[2005.6,-12.0],[2005.7,-14.0],[2005.8,-15.0],[2005.9,-16.0],[2006.0,-13.7],[2006.2,-16.1],[2006.4,-17.5],[2006.5,-19.0],[2006.6,-19.6],[2006.7,-20.4],[2006.8,-19.1],[2007.0,-18.1],[2007.1,-19.9],[2007.2,-17.7],[2007.3,-18.4],[2007.5,-16.8],[2007.6,-16.4],[2007.7,-17.6],[2007.9,-16.6],[2008.0,-18.1],[2008.1,-16.2],[2008.2,-17.2],[2008.2,-14.0],[2008.3,-18.7],[2008.5,-20.2],[2008.5,-20.4],[2008.7,-19.5],[2008.9,-22.1],[2009.0,-21.6],[2009.1,-23.7],[2009.2,-25.7],[2009.3,-22.0],[2009.5,-22.3],[2009.6,-22.7],[2009.8,-20.4],[2009.9,-22.9],[2010.0,-23.7],[2010.1,-22.0],[2010.2,-22.5],[2010.4,-22.9],[2010.5,-20.3],[2010.6,-22.5],[2010.7,-25.8],[2010.8,-23.1],[2010.9,-22.3],[2011.0,-23.3],[2011.0,-23.9],[2011.1,-23.6],[2011.3,-25.1],[2011.3,-26.3],[2011.4,-26.8],[2011.6,-22.7],[2011.8,-27.7],[2011.9,-27.1],[2012.0,-25.0],[2012.0,-26.0],[2012.2,-26.5],[2012.2,-24.6],[2012.4,-24.4],[2012.6,-24.9],[2012.8,-21.9],[2012.9,-22.5],[2013.0,-20.9],[2013.2,-23.7],[2013.3,-23.9],[2013.4,-23.5],[2013.6,-24.2],[2013.7,-25.9],[2013.8,-23.3],[2013.9,-22.0],[2014.0,-20.9],[2014.2,-22.9],[2014.3,-19.9],[2014.4,-21.9],[2014.5,-21.1],[2014.7,-19.1],[2014.8,-22.9],[2015.0,-22.7],[2015.1,-21.2],[2015.2,-22.0],[2015.4,-22.7],[2015.5,-23.3],[2015.6,-22.1],[2015.7,-22.3],[2015.9,-21.7],[2016.0,-21.1],[2016.1,-21.9],[2016.3,-22.5],[2016.4,-21.0],[2016.5,-23.8],[2016.7,-21.9],[2016.8,-20.3],[2016.9,-19.7],[2017.1,-19.2],[2017.2,-17.9],[2017.3,-17.2],[2017.4,-16.7],[2017.5,-16.2],[2017.6,-15.5],[2017.7,-15.1],[2017.9,-13.9],[2017.9,-13.3],[2018.1,-11.8],[2018.1,-12.4],[2018.2,-10.8],[2018.4,-10.0],[2018.5,-9.0],[2018.7,-8.6],[2018.8,-8.9],[2019.0,-7.9],[2019.1,-9.5],[2019.2,-9.2]];
const honoPhi_CHAMP = [[2002.4,-12.5],[2001.9,-17.6],[2004.6,-15.7],[2005.0,-14.0],[2005.3,-12.1],[2005.7,-13.4],[2006.0,-17.4],[2006.3,-21.0],[2006.6,-21.5],[2007.0,-17.4],[2007.3,-18.8],[2007.7,-17.7],[2008.0,-20.0],[2008.4,-19.2],[2008.6,-21.0],[2009.0,-20.4],[2009.3,-21.6],[2009.7,-21.0],[2010.0,-21.0]];
const honoPhi_Cryosat = [[2011.4,-25.7],[2011.7,-28.8],[2012.0,-22.7],[2012.3,-22.5],[2012.6,-23.5],[2013.4,-26.1],[2013.7,-21.5],[2014.3,-25.1],[2014.7,-21.8],[2015.2,-21.1],[2015.6,-20.7],[2015.9,-20.4],[2016.3,-20.3],[2016.7,-23.1],[2017.0,-21.5],[2017.2,-17.8],[2017.6,-15.1],[2018.0,-13.3],[2018.3,-11.6]];
const honoPhi_Swarm = [[2014.3,-23.8],[2014.7,-22.6],[2015.0,-24.4],[2015.3,-19.8],[2015.7,-23.9],[2016.0,-19.7],[2016.3,-23.1],[2016.6,-20.0],[2016.9,-18.5],[2017.3,-18.5],[2017.6,-14.5],[2018.0,-16.7],[2018.2,-11.0],[2018.5,-10.6],[2019.0,-8.2],[2019.3,-10.5],[2019.7,-7.3]];

// ---------------- drawing ----------------
const svg = d3.select("#chart");
svg.append("rect").attr("width",1594).attr("height",2216).attr("fill","#fff");
const SANS = "'Liberation Sans', Arial, Helvetica, sans-serif";
const SERIF = "'Liberation Serif', 'Times New Roman', serif";
const colors = ["#000000", "#cc00cc", "#0066ff", "#cc0000"];
const radii = [5.5, 8.6, 8.6, 8.6];

const colLeft = [126, 661, 1194], colWidth = [373, 372, 374];
const rowTop = [49.5, 794, 1540], rowHeight = 591;
const ylabelX = [[27, 578, 1101], [31, 578, 1101], [30, 571, 1101]];
const subs = ["r", "θ", "ϕ"];

const panels = [
  {row:0,col:0,domain:[150,230],ticks:kourouRTicks,series:[kourouR_GO,kourouR_CHAMP,kourouR_Cryosat,kourouR_Swarm]},
  {row:0,col:1,domain:[0,40],ticks:kourouThetaTicks,series:[kourouTheta_GO,kourouTheta_CHAMP,kourouTheta_Cryosat,kourouTheta_Swarm]},
  {row:0,col:2,domain:[-30,5],ticks:kourouPhiTicks,series:[kourouPhi_GO,kourouPhi_CHAMP,kourouPhi_Cryosat,kourouPhi_Swarm]},
  {row:1,col:0,domain:[-90,-20],ticks:novoRTicks,series:[novoR_GO,novoR_CHAMP,novoR_Cryosat,novoR_Swarm]},
  {row:1,col:1,domain:[0,60],ticks:novoThetaTicks,series:[novoTheta_GO,novoTheta_CHAMP,novoTheta_Cryosat,novoTheta_Swarm]},
  {row:1,col:2,domain:[-30,0],ticks:novoPhiTicks,series:[novoPhi_GO,novoPhi_CHAMP,novoPhi_Cryosat,novoPhi_Swarm]},
  {row:2,col:0,domain:[-10,50],ticks:honoRTicks,series:[honoR_GO,honoR_CHAMP,honoR_Cryosat,honoR_Swarm]},
  {row:2,col:1,domain:[-10,50],ticks:honoThetaTicks,series:[honoTheta_GO,honoTheta_CHAMP,honoTheta_Cryosat,honoTheta_Swarm]},
  {row:2,col:2,domain:[-30,-5],ticks:honoPhiTicks,series:[honoPhi_GO,honoPhi_CHAMP,honoPhi_Cryosat,honoPhi_Swarm]}
];

function styleAxis(g, size){
  g.select(".domain").remove();
  g.selectAll(".tick line").attr("stroke","#000").attr("stroke-width",1.6);
  g.selectAll(".tick text").attr("fill","#000").attr("font-family",SANS).attr("font-size",size);
}

panels.forEach(p => {
  const x0 = colLeft[p.col], w = colWidth[p.col], y0 = rowTop[p.row], h = rowHeight;
  const x = d3.scaleLinear().domain([2000, 2020]).range([x0, x0 + w]);
  const y = d3.scaleLinear().domain(p.domain).range([y0 + h, y0]);
  const g = svg.append("g");

  // grid
  g.append("g").selectAll("line").data(xTickValues).join("line")
    .attr("x1", d => x(d)).attr("x2", d => x(d)).attr("y1", y0).attr("y2", y0 + h)
    .attr("stroke", "#e1e1e1").attr("stroke-width", 2);
  g.append("g").selectAll("line").data(p.ticks).join("line")
    .attr("x1", x0).attr("x2", x0 + w).attr("y1", d => y(d)).attr("y2", d => y(d))
    .attr("stroke", "#e1e1e1").attr("stroke-width", 2);

  // axes
  g.append("g").attr("transform", `translate(0,${y0 + h})`)
    .call(d3.axisBottom(x).tickValues(xTickValues).tickFormat(d => String(d)).tickSizeInner(-6).tickSizeOuter(0).tickPadding(19))
    .call(a => styleAxis(a, 30));
  g.append("g").attr("transform", `translate(0,${y0})`)
    .call(d3.axisTop(x).tickValues(xTickValues).tickFormat("").tickSizeInner(-6).tickSizeOuter(0))
    .call(a => styleAxis(a, 30));
  g.append("g").attr("transform", `translate(${x0},0)`)
    .call(d3.axisLeft(y).tickValues(p.ticks).tickFormat(d => String(d)).tickSizeInner(-6).tickSizeOuter(0).tickPadding(22))
    .call(a => styleAxis(a, 29));
  g.append("g").attr("transform", `translate(${x0 + w},0)`)
    .call(d3.axisRight(y).tickValues(p.ticks).tickFormat("").tickSizeInner(-6).tickSizeOuter(0))
    .call(a => styleAxis(a, 29));

  // points
  p.series.forEach((s, i) => {
    g.append("g").selectAll("circle").data(s).join("circle")
      .attr("cx", d => x(d[0])).attr("cy", d => y(d[1])).attr("r", radii[i])
      .attr("fill", colors[i]);
  });

  // box
  g.append("rect").attr("x", x0).attr("y", y0).attr("width", w).attr("height", h)
    .attr("fill", "none").attr("stroke", "#000").attr("stroke-width", 2);

  // x label
  g.append("text").attr("x", x0 + w / 2).attr("y", y0 + h + 83)
    .attr("text-anchor", "middle").attr("font-family", SANS).attr("font-size", 32).text("Year");

  // y label
  const lx = ylabelX[p.row][p.col], ly = y0 + h / 2 + 12;
  const t = g.append("text").attr("transform", `translate(${lx},${ly}) rotate(-90)`)
    .attr("text-anchor", "middle").attr("font-family", SANS).attr("font-size", 29);
  t.append("tspan").text("dB");
  const sub = subs[p.col];
  t.append("tspan").attr("dx", 3).attr("dy", 8).attr("font-size", 21)
    .attr("font-style", sub === "r" ? "normal" : "italic").text(sub);
  t.append("tspan").attr("dx", 3).attr("dy", -8).text("/dt [nT/yr]");
});

// titles
const titlePos = [{x:626,y:26.5,len:412},{x:592,y:771,len:497},{x:599,y:1516,len:486}];
stationTitles.forEach((s, i) => {
  svg.append("text").attr("x", titlePos[i].x).attr("y", titlePos[i].y)
    .attr("font-family", SERIF).attr("font-size", 34)
    .attr("textLength", titlePos[i].len).attr("lengthAdjust", "spacingAndGlyphs")
    .text(s);
});

// legends
const legendPos = [{x:817,y:64},{x:745,y:1248},{x:244,y:1546}];
const legendRowDy = [20, 48, 77, 105];
legendPos.forEach(lp => {
  const lg = svg.append("g");
  lg.append("rect").attr("x", lp.x).attr("y", lp.y).attr("width", 280).attr("height", 124)
    .attr("fill", "#fff").attr("stroke", "#000").attr("stroke-width", 1.5);
  seriesNames.forEach((n, i) => {
    lg.append("circle").attr("cx", lp.x + 73).attr("cy", lp.y + legendRowDy[i])
      .attr("r", radii[i]).attr("fill", colors[i]);
    lg.append("text").attr("x", lp.x + 136).attr("y", lp.y + legendRowDy[i])
      .attr("dy", "0.36em").attr("font-family", SANS).attr("font-size", 21).text(n);
  });
});
</script>
</body></html>
